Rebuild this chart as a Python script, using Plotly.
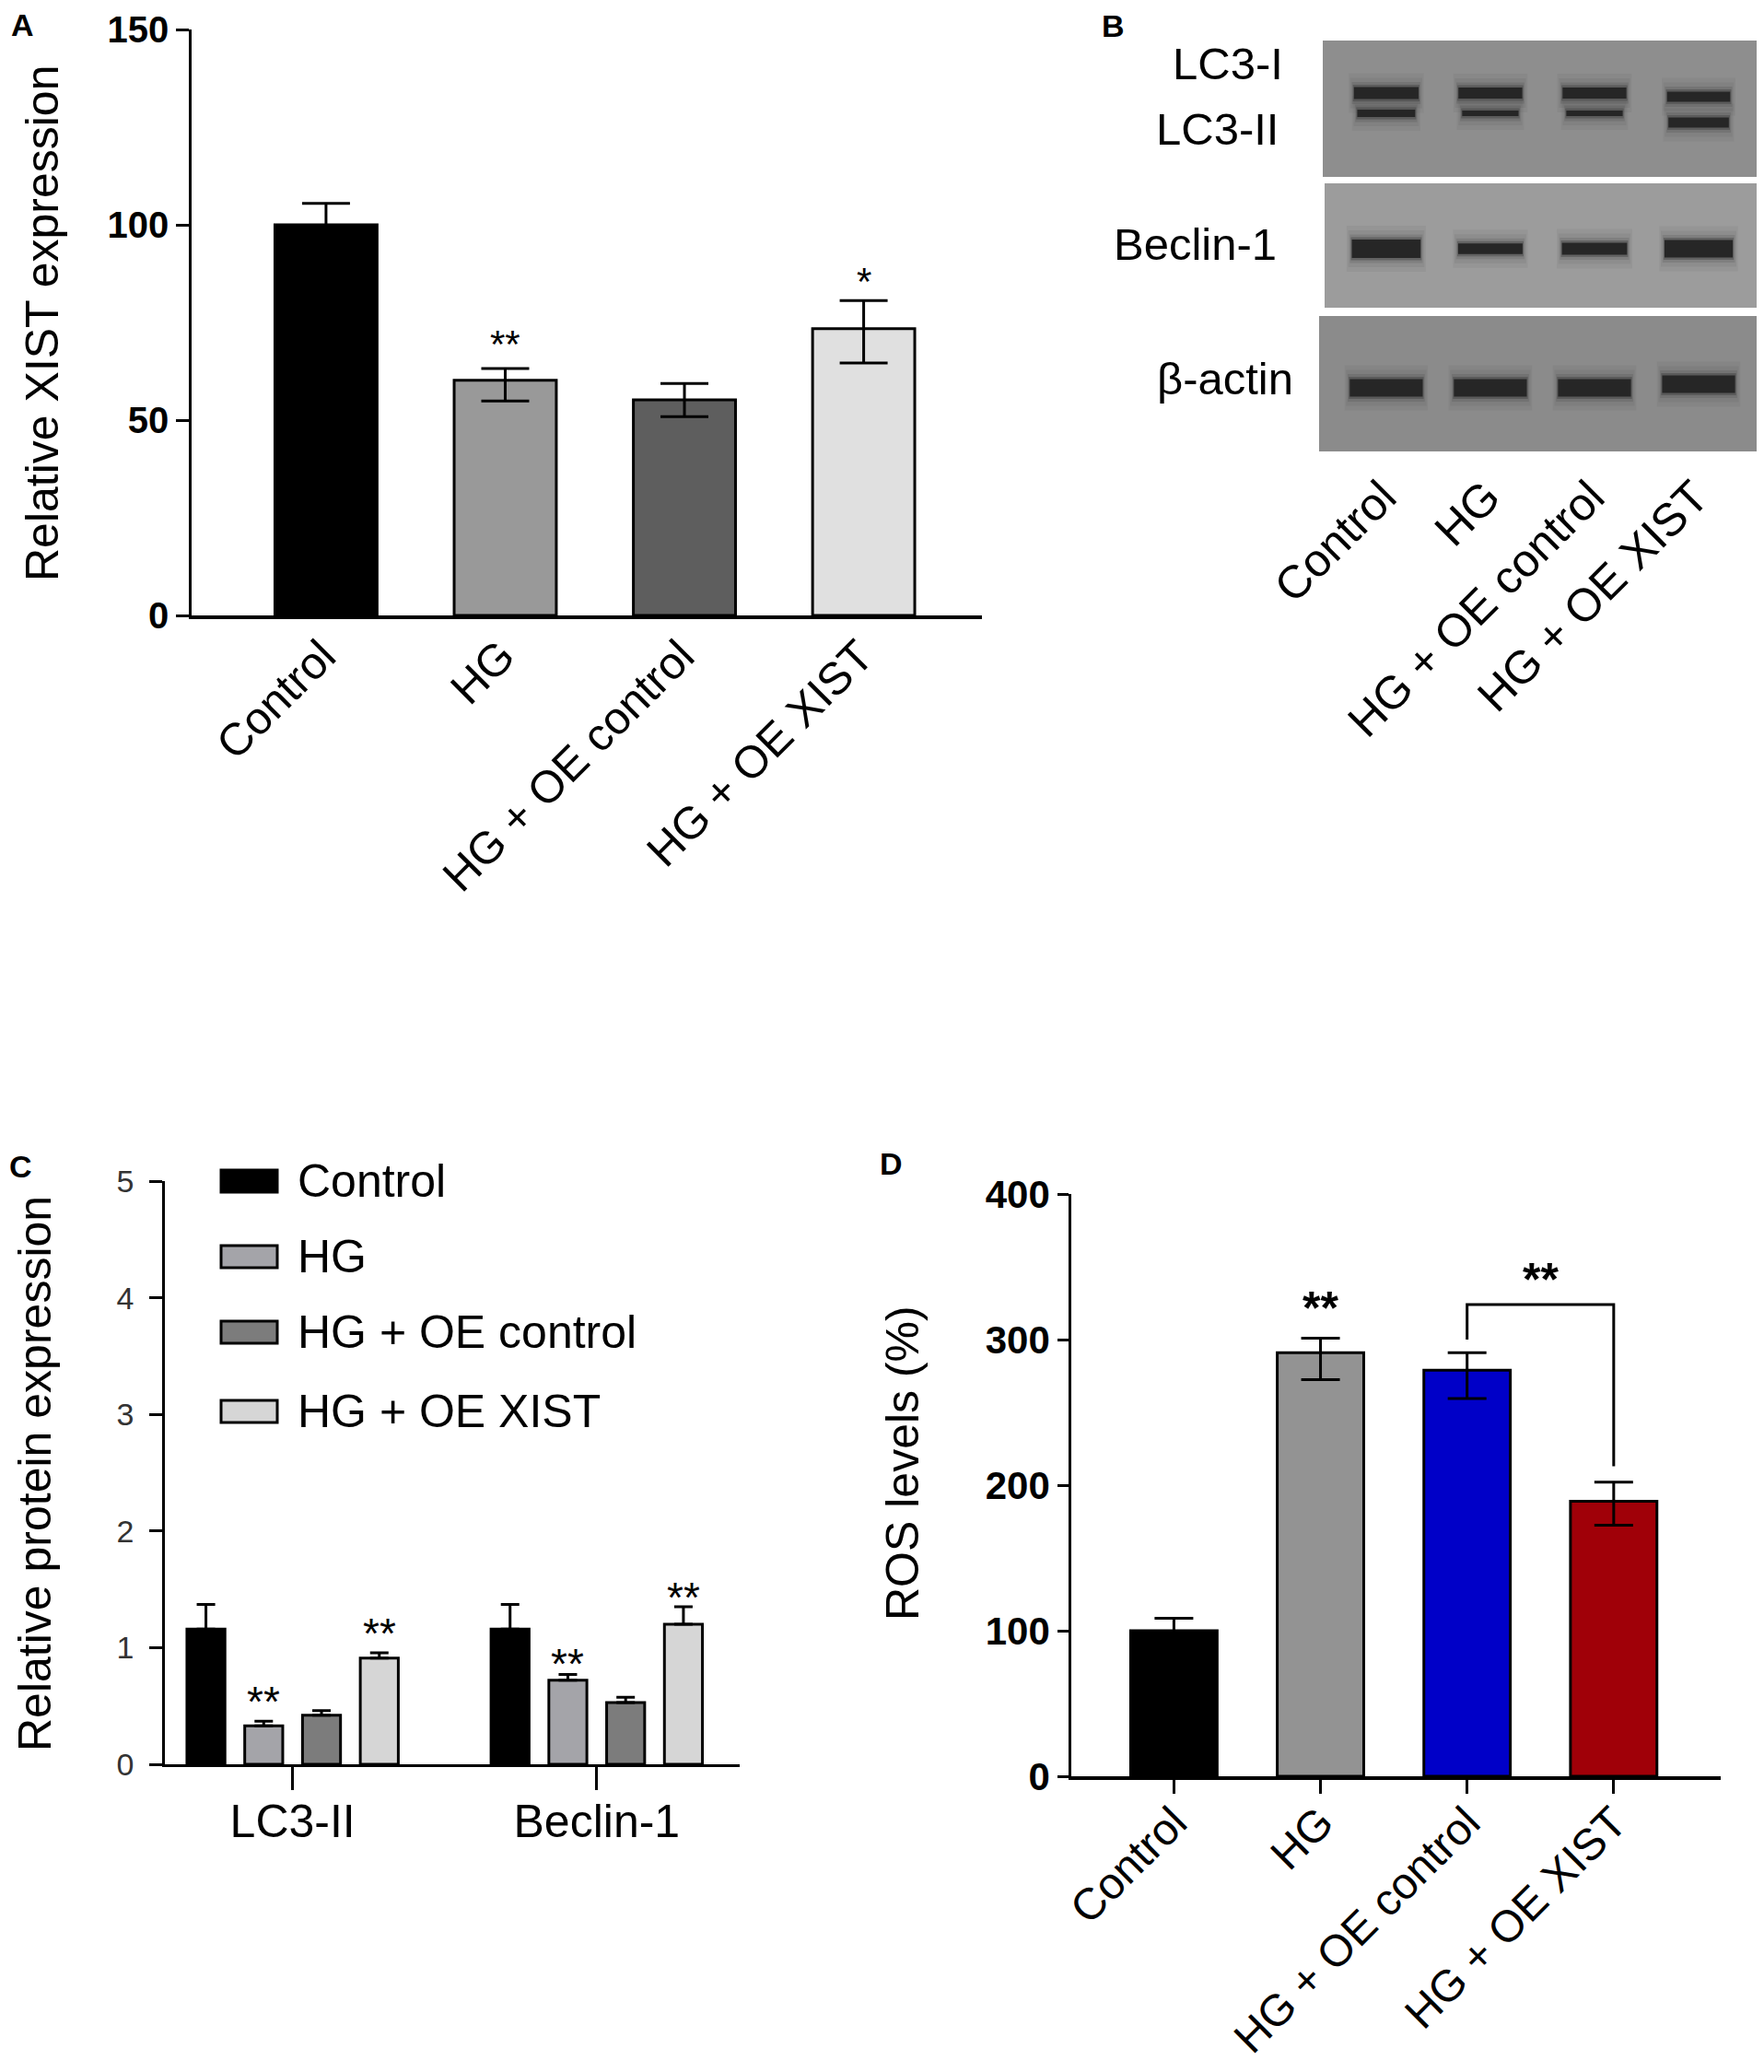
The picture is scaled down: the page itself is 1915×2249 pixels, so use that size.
import plotly.graph_objects as go

W, H = 1915, 2249
FONT = "Liberation Sans, Arial, sans-serif"

groups = ["Control", "HG", "HG + OE control", "HG + OE XIST"]

# A - relative XIST expression
xist_mean = [100, 60.2, 55.2, 73.4]
xist_err_up = [5.5, 3.0, 4.2, 7.2]
xist_err_down = [5.5, 5.3, 4.3, 8.8]
xist_stars = ["", "**", "", "*"]
xist_star_y = [0, 70, 0, 86]
xist_colors = ["#000000", "#999999", "#5e5e5e", "#e0e0e0"]

# B - western blot band densities (relative)
blot_rows = ["LC3-I", "LC3-II", "Beclin-1", "β-actin"]
band_lc3_i = [1.0, 0.92, 0.92, 0.85]
band_lc3_ii = [0.72, 0.55, 0.55, 1.0]
band_beclin = [1.0, 0.58, 0.65, 0.95]
band_actin = [1.0, 1.0, 1.0, 1.0]

# C - relative protein expression
proteins = ["LC3-II", "Beclin-1"]
prot_mean = {
    "Control": [1.16, 1.16],
    "HG": [0.33, 0.72],
    "HG + OE control": [0.42, 0.53],
    "HG + OE XIST": [0.91, 1.20],
}
prot_err = {
    "Control": [0.21, 0.21],
    "HG": [0.04, 0.05],
    "HG + OE control": [0.04, 0.045],
    "HG + OE XIST": [0.045, 0.15],
}
prot_stars = {"HG": [0.57, 0.89], "HG + OE XIST": [1.15, 1.46]}
prot_colors = ["#000000", "#a4a4a9", "#7c7c7c", "#d6d6d6"]

# D - ROS levels
ros_mean = [100, 291, 279, 189]
ros_err_up = [8.6, 10, 12, 13]
ros_err_down = [8.6, 18.5, 19.5, 16.6]
ros_colors = ["#000000", "#939393", "#0000c8", "#a00008"]
ros_star_y = 329
bracket_x = [2, 2, 3, 3]
bracket_y = [300, 324, 324, 213]
bracket_star_y = 349


def fx(px):
    return px / W


def fy(py):
    return 1 - py / H


fig = go.Figure()

# ---- panel A
fig.add_trace(go.Bar(
    x=list(range(4)), y=xist_mean, width=0.57,
    marker=dict(color=xist_colors, line=dict(color="black", width=3)),
    error_y=dict(type="data", symmetric=False, array=xist_err_up, arrayminus=xist_err_down,
                 color="black", thickness=3, width=26),
    xaxis="x", yaxis="y", showlegend=False, hoverinfo="skip"))

# ---- panel B (blot), bands drawn as soft thick strokes
row_y = [57, 79, 226, 377]
row_thick = [13, 11, 20, 19]
row_hw = [0.31, 0.29, 0.33, 0.35]
lane_shift = [[0, 0, 0, 4], [0, 0, 0, 10], [0, 0, 0, 0], [0, 0, 0, -4]]
halo = [(30, 0.05, "rgba(50,50,50,0.06)"), (20, 0.035, "rgba(50,50,50,0.08)"),
        (11, 0.02, "rgba(40,40,40,0.14)"), (5, 0.01, "rgba(35,35,35,0.30)"), (0, 0.0, "#262626")]
for r, dens in enumerate([band_lc3_i, band_lc3_ii, band_beclin, band_actin]):
    for lane, d in enumerate(dens):
        yy = row_y[r] + lane_shift[r][lane]
        w = row_thick[r] * d
        hw = row_hw[r] * (0.85 + 0.15 * d)
        for extra, dx, col in halo:
            fig.add_trace(go.Scatter(
                x=[lane - hw - dx, lane + hw + dx], y=[yy, yy], mode="lines",
                line=dict(color=col, width=w + extra),
                xaxis="x2", yaxis="y2", showlegend=False, hoverinfo="skip"))

# ---- panel C
for i, g in enumerate(groups):
    fig.add_trace(go.Bar(
        x=[0, 1], y=prot_mean[g], width=0.125, offset=(i - 1.5) * 0.19 - 0.0625,
        marker=dict(color=prot_colors[i], line=dict(color="black", width=3)),
        error_y=dict(type="data", symmetric=False, array=prot_err[g], arrayminus=[0, 0],
                     color="black", thickness=3, width=10),
        xaxis="x3", yaxis="y3", showlegend=False, hoverinfo="skip", name=g))

# ---- panel D
fig.add_trace(go.Bar(
    x=list(range(4)), y=ros_mean, width=0.59,
    marker=dict(color=ros_colors, line=dict(color="black", width=3)),
    error_y=dict(type="data", symmetric=False, array=ros_err_up, arrayminus=ros_err_down,
                 color="black", thickness=3, width=21),
    xaxis="x4", yaxis="y4", showlegend=False, hoverinfo="skip"))
fig.add_trace(go.Scatter(
    x=bracket_x, y=bracket_y, mode="lines", line=dict(color="black", width=3),
    xaxis="x4", yaxis="y4", showlegend=False, hoverinfo="skip"))

ann = []
shapes = []

# panel letters
for letter, (px, py) in zip("ABCD", [(16, 19), (1200, 20), (15, 1258), (960, 1255)]):
    ann.append(dict(text="<b>%s</b>" % letter, x=fx(px), y=fy(py), xref="paper", yref="paper",
                    showarrow=False, xanchor="center", yanchor="middle",
                    font=dict(size=34, color="black", family=FONT)))

# axis titles
for text, (px, py) in [("Relative XIST expression", (38, 343)),
                       ("Relative protein expression", (30, 1592)),
                       ("ROS levels (%)", (972, 1580))]:
    ann.append(dict(text=text, x=fx(px), y=fy(py), xref="paper", yref="paper",
                    showarrow=False, textangle=-90, xanchor="center", yanchor="middle",
                    font=dict(size=50, color="black", family=FONT)))

# A stars
for i, s in enumerate(xist_stars):
    if s:
        ann.append(dict(text=s, x=i, y=xist_star_y[i], xref="x", yref="y", showarrow=False,
                        yanchor="middle", yshift=-2, font=dict(size=42, color="black", family=FONT)))

# C stars
for i, g in enumerate(groups):
    if g in prot_stars:
        for k in range(2):
            ann.append(dict(text="**", x=k + (i - 1.5) * 0.19, y=prot_stars[g][k], xref="x3", yref="y3",
                            showarrow=False, yanchor="middle", yshift=-4,
                            font=dict(size=46, color="black", family=FONT)))

# D stars
for xx, yy in [(1, ros_star_y), (2.5, bracket_star_y)]:
    ann.append(dict(text="<b>**</b>", x=xx, y=yy, xref="x4", yref="y4", showarrow=False,
                    yanchor="middle", yshift=-12, font=dict(size=50, color="black", family=FONT)))

# blot row labels
for text, (px, py) in zip(blot_rows, [(1387, 61), (1382, 132), (1380, 257), (1398, 403)]):
    ann.append(dict(text=text, x=fx(px), y=fy(py), xref="paper", yref="paper", showarrow=False,
                    xanchor="right", yanchor="middle", font=dict(size=49, color="black", family=FONT)))

# blot membrane backgrounds
for (x0, y0, x1, y1), col in [((1428, 36, 1905, 184), "#8e8e8e"),
                              ((1430, 191, 1905, 326), "#9c9c9c"),
                              ((1424, 335, 1901, 482), "#8b8b8b")]:
    shapes.append(dict(type="rect", xref="paper", yref="paper", x0=fx(x0), x1=fx(x1), y0=fy(y1), y1=fy(y0),
                       fillcolor=col, line=dict(width=0), layer="below"))

# C legend
for i, g in enumerate(groups):
    cy = [1274, 1356, 1438, 1524][i]
    shapes.append(dict(type="rect", xref="paper", yref="paper", x0=fx(232), x1=fx(293),
                       y0=fy(cy + 12), y1=fy(cy - 12), fillcolor=prot_colors[i],
                       line=dict(color="black", width=3)))
    ann.append(dict(text=g, x=fx(313), y=fy(cy), xref="paper", yref="paper", showarrow=False,
                    xanchor="left", yanchor="middle", font=dict(size=50, color="black", family=FONT)))

axis_common = dict(showgrid=False, zeroline=False, automargin=False)

fig.update_layout(
    width=W, height=H, margin=dict(l=0, r=0, t=0, b=0),
    paper_bgcolor="white", plot_bgcolor="rgba(0,0,0,0)",
    barmode="overlay", font=dict(family=FONT, color="black"),
    annotations=ann, shapes=shapes,
    xaxis=dict(domain=[fx(200), fx(1058)], range=[-0.75, 3.66], anchor="y",
               tickvals=list(range(4)), ticktext=groups, tickangle=-45, ticks="",
               ticklabelstandoff=-8, ticklabelshift=-4,
               tickfont=dict(size=49), showline=True, linecolor="black", linewidth=3.5, **axis_common),
    yaxis=dict(domain=[fy(660), fy(24)], range=[0, 150], anchor="x", tickvals=[0, 50, 100, 150],
               ticks="outside", ticklen=14, tickwidth=3, tickcolor="black",
               tickfont=dict(size=40, weight="bold"), showline=True, linecolor="black", linewidth=2.5,
               **axis_common),
    xaxis2=dict(domain=[fx(1420), fx(1905)], range=[-0.68, 3.61], anchor="y2",
                tickvals=list(range(4)), ticktext=groups, tickangle=-45, ticks="",
                ticklabelstandoff=8, ticklabelshift=-4, tickfont=dict(size=50), showline=False,
                **axis_common),
    yaxis2=dict(domain=[fy(483), fy(36)], range=[447, 0], anchor="x2", showticklabels=False,
                ticks="", showline=False, **axis_common),
    xaxis3=dict(domain=[fx(171), fx(795)], range=[-0.42, 1.47], anchor="y3",
                tickvals=[0, 1], ticktext=proteins, ticks="outside", ticklen=25, tickwidth=3,
                tickcolor="black", ticklabelstandoff=-9, tickfont=dict(size=50), showline=True,
                linecolor="black", linewidth=3, **axis_common),
    yaxis3=dict(domain=[fy(1907), fy(1274)], range=[0, 5], anchor="x3", tickvals=[0, 1, 2, 3, 4, 5],
                ticks="outside", ticklen=14, tickwidth=2.5, tickcolor="black", ticklabelstandoff=10,
                tickfont=dict(size=34, color="#333333"), showline=True, linecolor="black", linewidth=2.5,
                **axis_common),
    xaxis4=dict(domain=[fx(1155), fx(1860)], range=[-0.70, 3.73], anchor="y4",
                tickvals=list(range(4)), ticktext=groups, tickangle=-45, ticks="outside", ticklen=15,
                tickwidth=3, tickcolor="black", ticklabelstandoff=-16, tickfont=dict(size=48),
                showline=True, linecolor="black", linewidth=3.5, **axis_common),
    yaxis4=dict(domain=[fy(1920), fy(1288)], range=[0, 400], anchor="x4",
                tickvals=[0, 100, 200, 300, 400], ticks="outside", ticklen=12, tickwidth=3,
                tickcolor="black", tickfont=dict(size=42, weight="bold"), showline=True,
                linecolor="black", linewidth=2.5, **axis_common),
)

fig.write_html("out.html")
